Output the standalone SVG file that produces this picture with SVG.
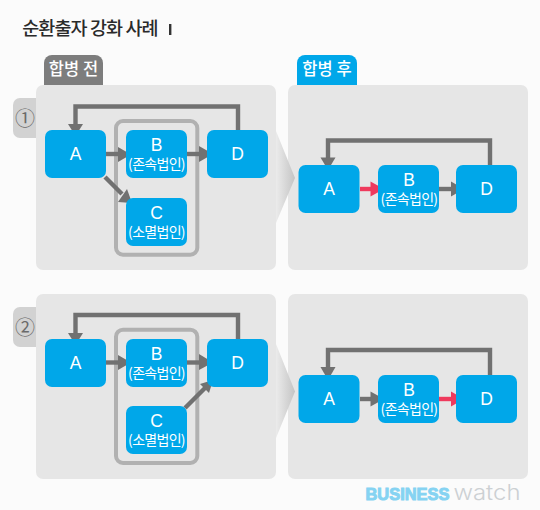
<svg xmlns="http://www.w3.org/2000/svg" width="540" height="510" viewBox="0 0 540 510">
<defs>
<style>
text{font-family:"Noto Sans CJK KR","Liberation Sans",sans-serif;text-anchor:middle}
.p{fill:#e6e6e6}
.n{fill:#00a7e9}
.l{font-family:"Liberation Sans","Noto Sans CJK KR",sans-serif;font-size:17.5px;fill:#fff}
.s{font-size:14px;fill:#fff;letter-spacing:-.7px}
.c{fill:none;stroke:#717171;stroke-width:4.4}
.r{fill:none;stroke:#ef3a5d;stroke-width:4.4}
.h{fill:#717171}
.hr{fill:#ef3a5d}
.f{fill:none;stroke:#b1b1b1;stroke-width:4}
.t{font-size:16.500px;font-weight:500;fill:#fff}
.q{font-size:20px;fill:#6a6a6a}
</style>
<linearGradient id="g" x1="0" x2="1" y1="0" y2="0"><stop offset="0" stop-color="#ebebeb"/><stop offset="1" stop-color="#c4c4c4"/></linearGradient>
</defs>
<rect width="540" height="510" fill="#fbfbfb"/>
<text x="90" y="35" style="font-size:18.500px;font-weight:500;letter-spacing:-.9px" fill="#2a2a2a">순환출자 강화 사례</text>
<rect x="169" y="24" width="2.400" height="11" fill="#333"/>

<g id="panels">
<path d="M44 85V63a8 8 0 0 1 8-8h43a8 8 0 0 1 8 8v22z" fill="#7d7d7d"/>
<text class="t" x="73.500" y="75">합병 전</text>
<path d="M297 85V63a8 8 0 0 1 8-8h44a8 8 0 0 1 8 8v22z" fill="#00a7e9"/>
<text class="t" x="327" y="75">합병 후</text>
<rect x="13" y="98" width="30" height="40" rx="7" fill="#d2d2d2"/>
<rect x="13" y="307" width="30" height="40" rx="7" fill="#d2d2d2"/>
<text class="q" x="25" y="126">①</text>
<text class="q" x="25" y="335">②</text>
<rect class="p" x="36" y="85" width="240" height="185" rx="7"/>
<rect class="p" x="288" y="85" width="240" height="185" rx="7"/>
<rect class="p" x="36" y="294" width="240" height="185" rx="7"/>
<rect class="p" x="288" y="294" width="240" height="185" rx="7"/>
<path d="M276 131L295 178L276 223z" fill="url(#g)"/>
<path d="M276 344L295 391.500L276 438z" fill="url(#g)"/>
<rect class="f" x="116" y="121" width="81.300" height="133.700" rx="7"/>
<rect class="f" x="116" y="329.700" width="81.300" height="133.300" rx="7"/>
</g>

<g id="connectors">
<path class="c" d="M238 130V106.500H75.500V125"/><path class="h" d="M68 124H83L75.500 136z"/>
<path class="c" d="M106 154H118"/><path class="h" d="M118 147L131 154.500L118 162z"/>
<path class="c" d="M187 154H200"/><path class="h" d="M199 146L213 154L199 162z"/>
<path class="c" d="M105 177L122 194"/><path class="h" d="M118 202L132 203L127 189z"/>
<path class="c" d="M490 165V140.500H328V160"/><path class="h" d="M320.500 157.500H335.500L328 170z"/>
<path class="r" d="M360 189H372"/><path class="hr" d="M370.500 181.500L384 189L370.500 196.500z"/>
<path class="c" d="M439 189H452"/><path class="h" d="M451 181.500L464 189L451 196.500z"/>
<path class="c" d="M238 339V315H75.500V334"/><path class="h" d="M68 333H83L75.500 345z"/>
<path class="c" d="M106 362.500H118"/><path class="h" d="M118 355L131 362.500L118 370z"/>
<path class="c" d="M187 362.500H200"/><path class="h" d="M199 354L213 362.500L199 370z"/>
<path class="c" d="M185 408L206 387"/><path class="h" d="M200 384L213 380L209 393z"/>
<path class="c" d="M490 375V350H328V368"/><path class="h" d="M320.500 367H335.500L328 380z"/>
<path class="c" d="M360 399H372"/><path class="h" d="M370.500 391.500L384 399L370.500 406.500z"/>
<path class="r" d="M439 399H452"/><path class="hr" d="M451 391.500L464 399L451 406.500z"/>
</g>

<g id="n1a"><rect class="n" x="45" y="130" width="61" height="48" rx="7"/><text class="l" x="75.500" y="160">A</text></g>
<g id="n1b"><rect class="n" x="126" y="130" width="61" height="48" rx="7"/><text class="l" x="156.500" y="151">B</text><text class="s" x="156.500" y="169">(존속법인)</text></g>
<g id="n1c"><rect class="n" x="126" y="198" width="61" height="48" rx="7"/><text class="l" x="156.500" y="219">C</text><text class="s" x="156.500" y="236.500">(소멸법인)</text></g>
<g id="n1d"><rect class="n" x="207" y="130" width="61" height="48" rx="7"/><text class="l" x="237.500" y="160">D</text></g>
<g id="n2a"><rect class="n" x="298.500" y="165" width="61" height="48" rx="7"/><text class="l" x="329" y="195">A</text></g>
<g id="n2b"><rect class="n" x="378" y="165" width="61" height="48" rx="7"/><text class="l" x="409" y="186">B</text><text class="s" x="409" y="204">(존속법인)</text></g>
<g id="n2d"><rect class="n" x="456" y="165" width="61" height="48" rx="7"/><text class="l" x="486.500" y="195">D</text></g>
<g id="n3a"><rect class="n" x="45" y="339" width="61" height="48" rx="7"/><text class="l" x="75.500" y="369">A</text></g>
<g id="n3b"><rect class="n" x="126" y="339" width="61" height="48" rx="7"/><text class="l" x="156.500" y="360">B</text><text class="s" x="156.500" y="378">(존속법인)</text></g>
<g id="n3c"><rect class="n" x="126" y="406" width="61" height="48" rx="7"/><text class="l" x="156.500" y="427">C</text><text class="s" x="156.500" y="444.500">(소멸법인)</text></g>
<g id="n3d"><rect class="n" x="207" y="339" width="61" height="48" rx="7"/><text class="l" x="237.500" y="369">D</text></g>
<g id="n4a"><rect class="n" x="298.500" y="375" width="61" height="48" rx="7"/><text class="l" x="329" y="405">A</text></g>
<g id="n4b"><rect class="n" x="378" y="375" width="61" height="48" rx="7"/><text class="l" x="409" y="396">B</text><text class="s" x="409" y="414">(존속법인)</text></g>
<g id="n4d"><rect class="n" x="456" y="375" width="61" height="48" rx="7"/><text class="l" x="486.500" y="405">D</text></g>

<text x="407.500" y="500" style="font-family:'Liberation Sans',sans-serif;font-size:17px;font-weight:700" fill="#85d3f2" stroke="#85d3f2" stroke-width="1" textLength="84" lengthAdjust="spacingAndGlyphs">BUSINESS</text>
<text x="487" y="500" style="font-family:'Inter',sans-serif;font-size:21px;font-weight:300" fill="#ccd0d3" textLength="67" lengthAdjust="spacingAndGlyphs">watch</text>
</svg>
